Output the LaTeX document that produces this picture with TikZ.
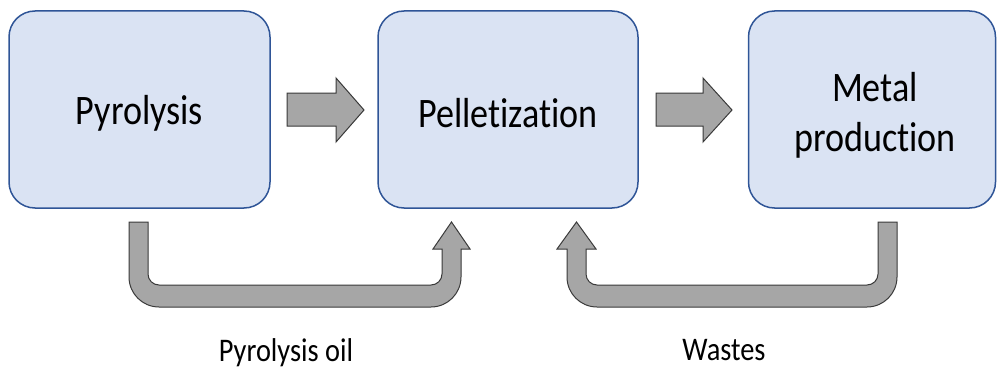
\documentclass[tikz,border=0pt]{standalone}
\usepackage{fontspec}
\setmainfont{Carlito}
\newfontfamily\cf[FakeStretch=0.86,Ligatures=NoCommon]{Carlito}
\definecolor{boxfill}{HTML}{DAE3F3}
\definecolor{boxline}{HTML}{2F5597}
\definecolor{arrfill}{HTML}{A6A6A6}
\definecolor{arrline}{HTML}{3A3A3A}
\begin{document}
\begin{tikzpicture}[x=1pt,y=-1pt,
  procbox/.style={draw=boxline, fill=boxfill, line width=1.5pt, rounded corners=26pt,
    minimum height=197pt, inner sep=0pt},
  boxtext/.style={align=center, inner sep=0pt, font=\cf\fontsize{42}{50}\selectfont},
  blockarr/.style={draw=arrline, fill=arrfill, line width=1pt, line join=miter},
  lbl/.style={anchor=base, inner sep=0pt, font=\cf\fontsize{33}{40}\selectfont}]
\useasboundingbox (0,0) rectangle (998,369);
\node[procbox, minimum width=261pt] (b1) at (139.5,109.5) {};
\node[procbox, minimum width=260pt] (b2) at (508,109.5) {};
\node[procbox, minimum width=247pt] (b3) at (872,109.5) {};
\node[boxtext] (t1) at ([yshift=-4pt]b1.center) {Pyrolysis};
\node[boxtext] (t2) at ([yshift=-4pt]b2.center) {Pelletization};
\node[boxtext] (t3) at ([yshift=-6pt,xshift=3pt]b3.center) {Metal\\production};
% straight block arrows
\draw[blockarr] (287,93) -- (336,93) -- (336,78) -- (364,110) -- (336,142) -- (336,126) -- (287,126) -- cycle;
\draw[blockarr] (656,93) -- (703,93) -- (703,78) -- (732,110) -- (703,142) -- (703,126) -- (656,126) -- cycle;
% U arrow: Pyrolysis -> Pelletization
\draw[blockarr] (129,222) -- (129,277) arc[start angle=180,end angle=270,radius=30pt]
  -- (431,307) arc[start angle=270,end angle=360,radius=30pt]
  -- (461,249) -- (470,249) -- (451.5,222) -- (433,249) -- (442,249)
  -- (442,274) arc[start angle=0,end angle=-90,radius=11pt]
  -- (159,285) arc[start angle=270,end angle=180,radius=11pt]
  -- (148,222) -- cycle;
% U arrow: Metal production -> Pelletization
\draw[blockarr] (897,222) -- (897,277) arc[start angle=0,end angle=-90,radius=30pt]
  -- (597,307) arc[start angle=270,end angle=180,radius=30pt]
  -- (567,249) -- (557,249) -- (576.5,222) -- (596,249) -- (586,249)
  -- (586,274) arc[start angle=180,end angle=270,radius=11pt]
  -- (867,285) arc[start angle=270,end angle=360,radius=11pt]
  -- (878,222) -- cycle;
\node[lbl] (l1) at (286,361) {Pyrolysis oil};
\node[lbl] (l2) at (724,360) {Wastes};
\end{tikzpicture}
\end{document}
